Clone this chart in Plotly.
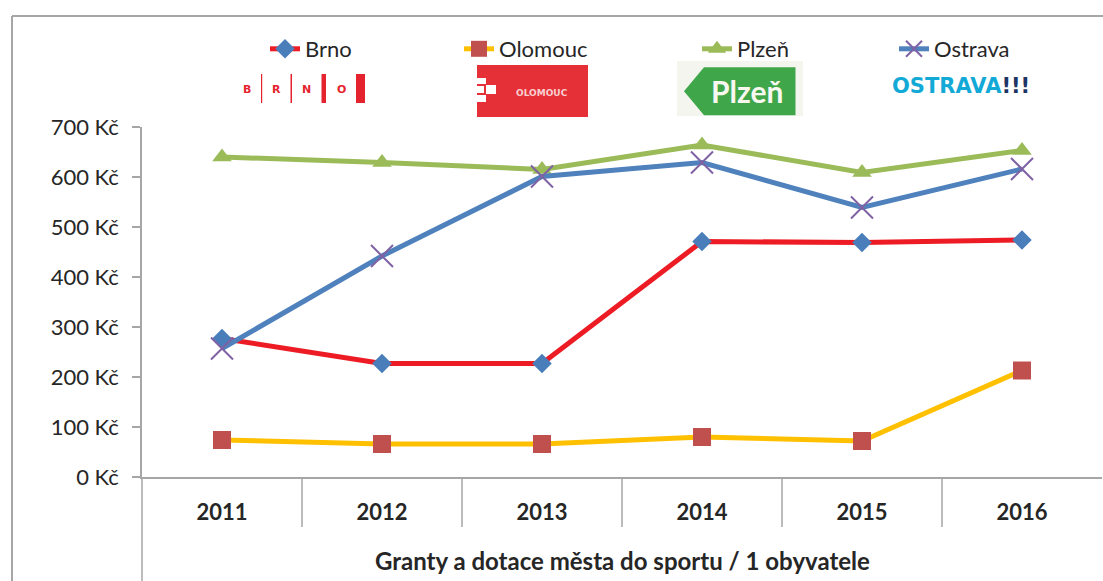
import plotly.graph_objects as go

years = ["2011", "2012", "2013", "2014", "2015", "2016"]
brno = [277, 227, 227, 471, 469, 474]
olomouc = [74, 66, 66, 80, 72, 213]
plzen = [640, 629, 615, 664, 609, 653]
ostrava = [257, 442, 601, 629, 539, 616]
series_names = ["Brno", "Olomouc", "Plzeň", "Ostrava"]
y_ticks = [0, 100, 200, 300, 400, 500, 600, 700]
y_tick_text = [f"{v} Kč" for v in y_ticks]
x_title = "Granty a dotace města do sportu / 1 obyvatele"

W, H = 1103, 581
L, R, T, B = 142, 1, 127, 104
PW, PH = W - L - R, H - T - B


def px(x):
    return (x - L) / PW


def py(y):
    return (H - B - y) / PH


FONT = "Lato"
TXT = "#262626"
AX = "#A6A6A6"

fig = go.Figure()

fig.add_trace(go.Scatter(
    x=years, y=brno, name=series_names[0], mode="lines+markers",
    line=dict(color="#ED1C24", width=5),
    marker=dict(symbol="diamond", size=15, color="#4A7EBB"),
    legend="legend"))
fig.add_trace(go.Scatter(
    x=years, y=olomouc, name=series_names[1], mode="lines+markers",
    line=dict(color="#FFC000", width=5),
    marker=dict(symbol="square", size=18, color="#C0504D"),
    legend="legend2"))
fig.add_trace(go.Scatter(
    x=years, y=plzen, name=series_names[2], mode="lines+markers",
    line=dict(color="#9BBB59", width=5),
    marker=dict(symbol="triangle-up", size=17, color="#9BBB59"),
    legend="legend3"))
fig.add_trace(go.Scatter(
    x=years, y=ostrava, name=series_names[3], mode="lines+markers",
    line=dict(color="#4F81BD", width=5),
    marker=dict(symbol="x-thin", size=22, color="#7F62A4",
                line=dict(color="#7F62A4", width=2)),
    legend="legend4"))

shapes = []
# category separators below x axis
for i in range(len(years) - 1):
    shapes.append(dict(type="line", xref="x", yref="paper",
                       x0=i + 0.5, x1=i + 0.5, y0=0, y1=py(527),
                       line=dict(color=AX, width=1.5)))
# y axis extension down through the axis-title area
shapes.append(dict(type="line", xref="paper", yref="paper",
                   x0=0, x1=0, y0=0, y1=py(581), line=dict(color=AX, width=1.5)))
# outer chart border
shapes.append(dict(type="line", xref="paper", yref="paper",
                   x0=px(12), x1=px(1110), y0=py(16), y1=py(16),
                   line=dict(color=AX, width=2)))
shapes.append(dict(type="line", xref="paper", yref="paper",
                   x0=px(12), x1=px(12), y0=py(16), y1=py(590),
                   line=dict(color=AX, width=2)))

# --- logos (decorations) ---
LOGO_RED = "#E4232E"
# Brno bars
for (x0, x1) in [(261, 262.2), (290.5, 292), (321.5, 326), (356, 365)]:
    shapes.append(dict(type="rect", xref="paper", yref="paper",
                       x0=px(x0), x1=px(x1), y0=py(74), y1=py(103),
                       fillcolor=LOGO_RED, line=dict(width=0)))
# Olomouc box
shapes.append(dict(type="rect", xref="paper", yref="paper",
                   x0=px(477), x1=px(588), y0=py(65), y1=py(117),
                   fillcolor="#E63037", line=dict(width=0)))
for (x0, y0, x1, y1) in [(477, 78, 486, 84), (486, 85, 496, 94),
                         (477, 86, 484, 93), (477, 95, 486, 102)]:
    shapes.append(dict(type="rect", xref="paper", yref="paper",
                       x0=px(x0), x1=px(x1), y0=py(y0), y1=py(y1),
                       fillcolor="white", line=dict(width=0)))
# Plzen logo background + arrow
shapes.append(dict(type="rect", xref="paper", yref="paper",
                   x0=px(677), x1=px(803), y0=py(61), y1=py(116),
                   fillcolor="#F5F5EF", line=dict(width=0)))
pts = [(684, 91.3), (704, 67.3), (795.5, 67.3), (795.5, 115.3), (704, 115.3)]
path = "M " + " L ".join(f"{px(a):.5f},{py(b):.5f}" for a, b in pts) + " Z"
shapes.append(dict(type="path", xref="paper", yref="paper", path=path,
                   fillcolor="#3FA64A", line=dict(width=0)))

annotations = []
for letter, xc in zip("BRNO", [246.7, 276.7, 306, 341.7]):
    annotations.append(dict(text=f"<b>{letter}</b>", xref="paper", yref="paper",
                            x=px(xc), y=py(89), showarrow=False,
                            xanchor="center", yanchor="middle",
                            font=dict(family="DejaVu Sans", size=11, color=LOGO_RED)))
annotations.append(dict(text="<b>OLOMOUC</b>", xref="paper", yref="paper",
                        x=px(542), y=py(93), showarrow=False,
                        xanchor="center", yanchor="middle",
                        font=dict(family="DejaVu Sans", size=9, color="#F8D0D2")))
annotations.append(dict(text="<b>Plzeň</b>", xref="paper", yref="paper",
                        x=px(747), y=py(91), showarrow=False,
                        xanchor="center", yanchor="middle",
                        font=dict(family=FONT, size=30, color="#F8F8F0")))
annotations.append(dict(
    text="<b><span style='color:#13A9D6'>OSTRAVA</span><span style='color:#1B3564'>!!!</span></b>",
    xref="paper", yref="paper", x=px(890), y=py(86), showarrow=False,
    xanchor="left", yanchor="middle",
    font=dict(family="DejaVu Sans", size=21, color="#13A9D6")))
# axis title
annotations.append(dict(text=f"<b>{x_title}</b>", xref="paper", yref="paper",
                        x=px(622), y=py(560), showarrow=False,
                        xanchor="center", yanchor="middle",
                        font=dict(family=FONT, size=24, color=TXT)))

leg_common = dict(orientation="h", yanchor="middle", xanchor="left",
                  bgcolor="rgba(0,0,0,0)", borderwidth=0,
                  font=dict(family=FONT, size=22, color=TXT))
legend_y = py(49)

fig.update_layout(
    width=W, height=H,
    margin=dict(l=L, r=R, t=T, b=B, autoexpand=False),
    paper_bgcolor="white", plot_bgcolor="white",
    font=dict(family=FONT, color=TXT),
    showlegend=True,
    legend=dict(x=px(265), y=legend_y, **leg_common),
    legend2=dict(x=px(459), y=legend_y, **leg_common),
    legend3=dict(x=px(697), y=legend_y, **leg_common),
    legend4=dict(x=px(894), y=legend_y, **leg_common),
    xaxis=dict(type="category", categoryorder="array", categoryarray=years,
               range=[-0.5, len(years) - 0.5], showgrid=False, zeroline=False,
               showline=True, linecolor=AX, linewidth=1.5, ticks="",
               ticklabelstandoff=15,
               tickfont=dict(family=FONT, size=22, color=TXT, weight="bold"),
               fixedrange=True),
    yaxis=dict(range=[0, 700], tickmode="array", tickvals=y_ticks,
               ticktext=y_tick_text,
               showgrid=False, zeroline=False, showline=True, linecolor=AX,
               linewidth=1.5, ticks="outside", ticklen=8, tickcolor=AX,
               tickwidth=1.5, ticklabelstandoff=9,
               tickfont=dict(family=FONT, size=22, color=TXT),
               fixedrange=True),
    shapes=shapes,
    annotations=annotations,
)

fig.write_html("out.html", config={"displayModeBar": False},
               post_script="document.body.style.margin='0';document.body.style.padding='0';")
